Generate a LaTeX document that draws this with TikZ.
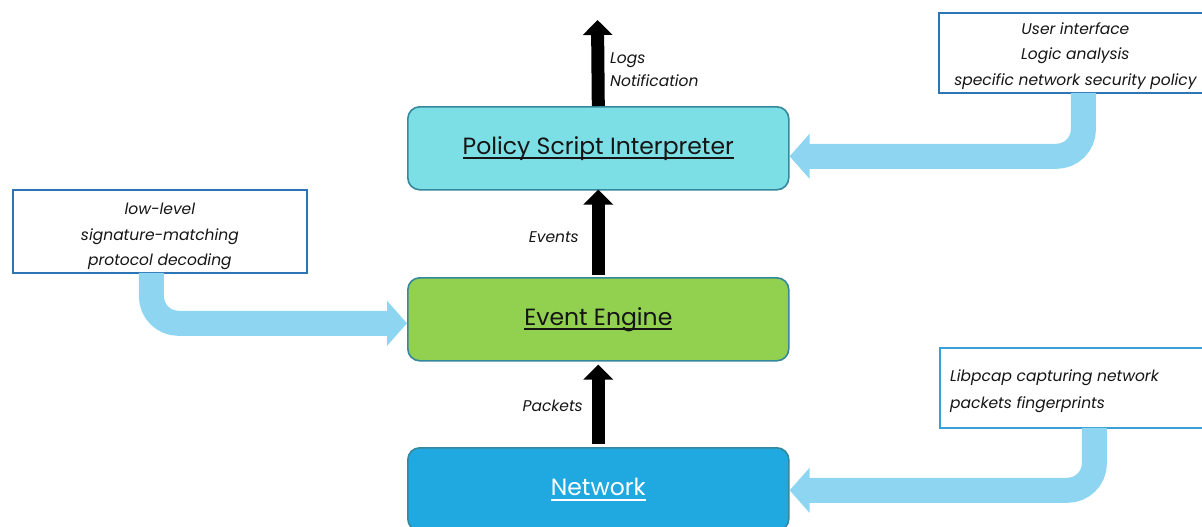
\documentclass[tikz,border=0pt]{standalone}
\usepackage{fontspec}
\setmainfont{Poppins}
\usetikzlibrary{arrows.meta}

\definecolor{policyfill}{HTML}{7DDFE6}
\definecolor{enginefill}{HTML}{92D050}
\definecolor{netfill}{HTML}{1FA9E0}
\definecolor{stageline}{HTML}{35879C}
\definecolor{noteline}{HTML}{2E75B6}
\definecolor{noteline2}{HTML}{3AA0D6}
\definecolor{flowblue}{HTML}{8DD5F1}
\definecolor{ink}{HTML}{151515}

% underlined title with a heavier rule that crosses the descenders
\newcommand{\titletext}[1]{\leavevmode\setbox0=\hbox{#1}\rlap{\copy0}\rule[-5pt]{\wd0}{1.8pt}}

\begin{document}
\begin{tikzpicture}[x=1pt,y=-1pt,
  stage/.style={draw=stageline, line width=1.6pt, rounded corners=12pt,
    minimum width=381pt, minimum height=83pt, inner sep=0pt,
    font=\fontsize{23.5}{28}\selectfont},
  note/.style={draw=noteline, line width=1.8pt, fill=white, inner sep=0pt,
    anchor=north west},
  notetext/.style={inner sep=0pt, align=center, text=ink,
    font=\itshape\fontsize{15.5}{25.8}\selectfont},
  tag/.style={text=ink, inner sep=0pt, font=\itshape\fontsize{15.5}{23}\selectfont},
  flow/.style={line width=13pt, black, -{Triangle[width=29pt,length=15pt]}},
  bigflow/.style={line width=25pt, flowblue, rounded corners=27pt,
    -{Triangle[width=44pt,length=20pt]}}
]
\useasboundingbox (0,0) rectangle (1202,527);
\clip (0,0) rectangle (1202,527);

% processing stages
\node[stage, fill=policyfill, text=ink, anchor=north west] (policy) at (407,106)
  {\titletext{Policy Script Interpreter}};
\node[stage, fill=enginefill, text=ink, anchor=north west] (engine) at (407,277)
  {\titletext{Event Engine}};
\node[stage, fill=netfill, text=white, anchor=north west] (network) at (407,447)
  {\titletext{Network}};

% side notes: frames
\node[note, minimum width=267pt, minimum height=80pt] (ui) at (938,12) {};
\node[note, minimum width=294pt, minimum height=83pt] (lowlevel) at (12,189) {};
\node[note, draw=noteline2, minimum width=266pt, minimum height=80pt] (capture) at (939,347) {};

% side notes: texts
\node[notetext] (uitext) at ([xshift=3pt,yshift=-3pt]ui.center)
  {User interface\\Logic analysis\\specific network security policy};
\node[notetext] (lowleveltext) at ([yshift=-5pt]lowlevel.center)
  {low-level\\signature-matching\\protocol decoding};
\node[notetext, align=left, anchor=west, font=\itshape\fontsize{15.5}{27}\selectfont]
  (capturetext) at ([xshift=11pt,yshift=-3pt]capture.west)
  {Libpcap capturing network\\packets fingerprints};

% wide flows from the notes into the stages
\draw[bigflow] ([xshift=11pt,yshift=1pt]ui.south) |- ([yshift=-8pt]policy.east);
\draw[bigflow] ([xshift=-8.5pt,yshift=1pt]lowlevel.south) |- ([yshift=-4pt]engine.west);
\draw[bigflow] ([xshift=21.5pt,yshift=1pt]capture.south) |- ([yshift=-1pt]network.east);

% data flowing upward between the stages
\coordinate (out) at (597.5,20);
\draw[flow] (policy.north) -- (out);
\draw[flow] ([yshift=2pt]engine.north) -- ([yshift=1pt]policy.south);
\draw[flow] ([yshift=3pt]network.north) -- ([yshift=-3pt]engine.south);

% flow labels
\node[tag, anchor=west, align=left] (outlabel) at (610,69.5) {Logs\\Notification};
\node[tag, anchor=east] (evlabel) at (579,237) {Events};
\node[tag, anchor=east] (pklabel) at (583,406) {Packets};
\end{tikzpicture}
\end{document}
